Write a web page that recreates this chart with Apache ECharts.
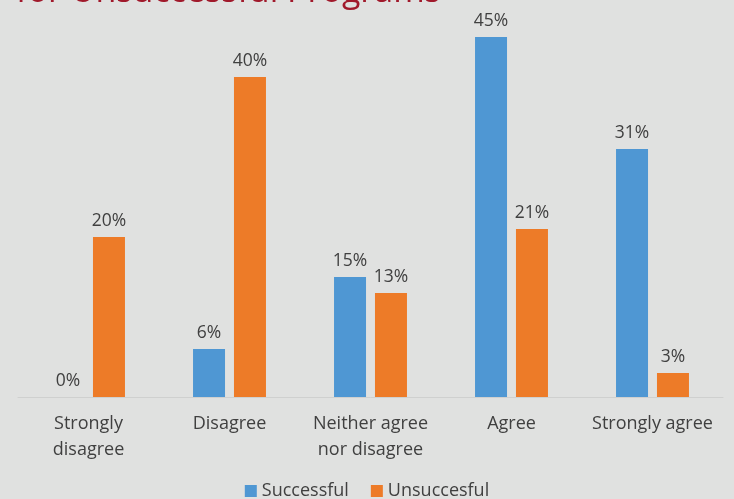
<!DOCTYPE html>
<html>
<head>
<meta charset="utf-8">
<script src="https://cdn.jsdelivr.net/npm/echarts@6/dist/echarts.min.js"></script>
<style>
  html, body { margin: 0; padding: 0; background: #e0e1e0; }
  #chart { width: 734px; height: 499px; }
</style>
</head>
<body>
<div id="chart"></div>
<script>
const categories = ['Strongly\ndisagree', 'Disagree', 'Neither agree\nnor disagree', 'Agree', 'Strongly agree'];
const successful = [0, 6, 15, 45, 31];
const unsuccessful = [20, 40, 13, 21, 3];
const seriesNames = ['Successful', 'Unsuccesful'];
const titleText = 'for Unsuccessful Programs';

const FONT = '"Open Sans", "Noto Sans", sans-serif';
const chart = echarts.init(document.getElementById('chart'), null, { renderer: 'canvas' });

const labelStyle = {
  show: true,
  position: 'top',
  distance: 7,
  formatter: p => p.value + '%',
  color: '#404040',
  fontFamily: FONT,
  fontSize: 17.5
};

chart.setOption({
  backgroundColor: '#e0e1e0',
  animation: false,
  graphic: [{
    type: 'text',
    left: 16,
    top: -25,
    style: { text: titleText, fill: '#a0192b', font: '34px "Open Sans", sans-serif' }
  }],
  legend: {
    data: seriesNames,
    top: 477,
    left: 'center',
    itemWidth: 12,
    itemHeight: 12,
    itemGap: 22,
    icon: 'rect',
    textStyle: { color: '#404040', fontFamily: FONT, fontSize: 18 }
  },
  grid: { left: 18, right: 11, top: 37, bottom: 102, containLabel: false },
  xAxis: {
    type: 'category',
    data: categories,
    axisLine: { lineStyle: { color: '#cfd0cf', width: 1 } },
    axisTick: { show: false },
    axisLabel: {
      color: '#404040',
      fontFamily: FONT,
      fontSize: 18,
      lineHeight: 26,
      margin: 14,
      interval: 0
    }
  },
  yAxis: {
    type: 'value',
    min: 0,
    max: 45,
    show: false,
    splitLine: { show: false }
  },
  series: [
    {
      name: seriesNames[0],
      type: 'bar',
      data: successful,
      barWidth: 32,
      barGap: '28%',
      itemStyle: { color: '#4f97d3' },
      label: labelStyle
    },
    {
      name: seriesNames[1],
      type: 'bar',
      data: unsuccessful,
      barWidth: 32,
      itemStyle: { color: '#ed7b28' },
      label: labelStyle
    }
  ]
});
</script>
</body>
</html>
